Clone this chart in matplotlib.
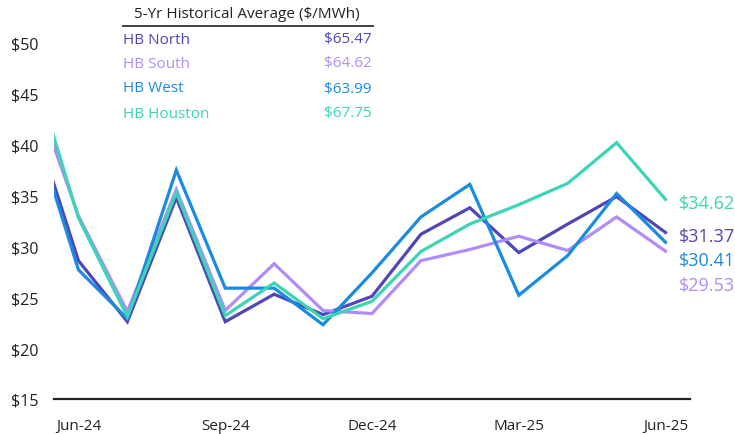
import numpy as np
import matplotlib
matplotlib.use("Agg")
import matplotlib.pyplot as plt

plt.rcParams['font.family'] = ['Open Sans', 'DejaVu Sans']

# monthly average prices ($/MWh); the first month sits just outside the visible range
months = ['May-24', 'Jun-24', 'Jul-24', 'Aug-24', 'Sep-24', 'Oct-24', 'Nov-24',
          'Dec-24', 'Jan-25', 'Feb-25', 'Mar-25', 'Apr-25', 'May-25', 'Jun-25']
hb_north = [43.6, 28.6, 22.6, 34.8, 22.6, 25.3, 23.3, 25.1, 31.2, 33.8, 29.4, 32.2, 34.9, 31.37]
hb_south = [46.6, 33.0, 23.6, 35.6, 23.7, 28.3, 23.7, 23.4, 28.6, 29.7, 31.0, 29.6, 32.9, 29.53]
hb_west = [43.1, 27.7, 22.9, 37.5, 25.9, 25.9, 22.3, 27.4, 32.9, 36.1, 25.2, 29.1, 35.2, 30.41]
hb_houston = [48.6, 32.8, 23.1, 35.3, 23.2, 26.4, 22.9, 24.6, 29.5, 32.2, 34.1, 36.2, 40.2, 34.62]

hubs = ['HB North', 'HB South', 'HB West', 'HB Houston']
hist_avg = [65.47, 64.62, 63.99, 67.75]
colors = ['#4F46B8', '#B18CF8', '#1A8BE0', '#3BD4B4']
series = [hb_north, hb_south, hb_west, hb_houston]

tick_months = ['Jun-24', 'Sep-24', 'Dec-24', 'Mar-25', 'Jun-25']
y_ticks = [15, 20, 25, 30, 35, 40, 45, 50]

W, H = 735, 435
fig = plt.figure(figsize=(W / 100, H / 100), dpi=100)
ax = fig.add_axes([54 / W, 35 / H, 636 / W, 356 / H])

x = np.arange(len(months))
order = [1, 0, 3, 2]
for i in order:
    ax.plot(x, series[i], color=colors[i], lw=2.3, solid_joinstyle='miter', zorder=3 + i)

ax.set_xlim(0.5, len(months) - 0.5)
ax.set_ylim(15, 50)
ax.set_yticks(y_ticks)
ax.set_yticklabels([f'${v}' for v in y_ticks])
ax.set_xticks([months.index(m) for m in tick_months])
ax.set_xticklabels(tick_months)
ax.tick_params(axis='both', length=0, colors='#222222')
ax.tick_params(axis='y', pad=11.5, labelsize=11.5)
ax.tick_params(axis='x', pad=14, labelsize=11)

for side in ['top', 'right', 'left']:
    ax.spines[side].set_visible(False)
ax.spines['bottom'].set_color('#222222')
ax.spines['bottom'].set_linewidth(1.6)

# end-of-line labels (dodged)
label_y = [237, 286, 261, 204]
for i in range(4):
    fig.text(679 / W, 1 - label_y[i] / H, f'${series[i][-1]:.2f}', color=colors[i],
             fontsize=13, ha='left', va='center')

# 5-yr historical average table
fig.text(247 / W, 1 - 15 / H, '5-Yr Historical Average ($/MWh)', fontsize=11,
         ha='center', va='center', color='#222222')
fig.add_artist(plt.Line2D([123 / W, 373 / W], [1 - 27 / H, 1 - 27 / H],
                          color='#333333', lw=1.3))
row_y = [40, 64, 89, 114]
for i in range(4):
    fig.text(123 / W, 1 - row_y[i] / H, hubs[i], color=colors[i], fontsize=11,
             ha='left', va='center')
    fig.text(372 / W, 1 - row_y[i] / H, f'${hist_avg[i]:.2f}', color=colors[i],
             fontsize=11, ha='right', va='center')

fig.savefig('out.png', dpi=100)
